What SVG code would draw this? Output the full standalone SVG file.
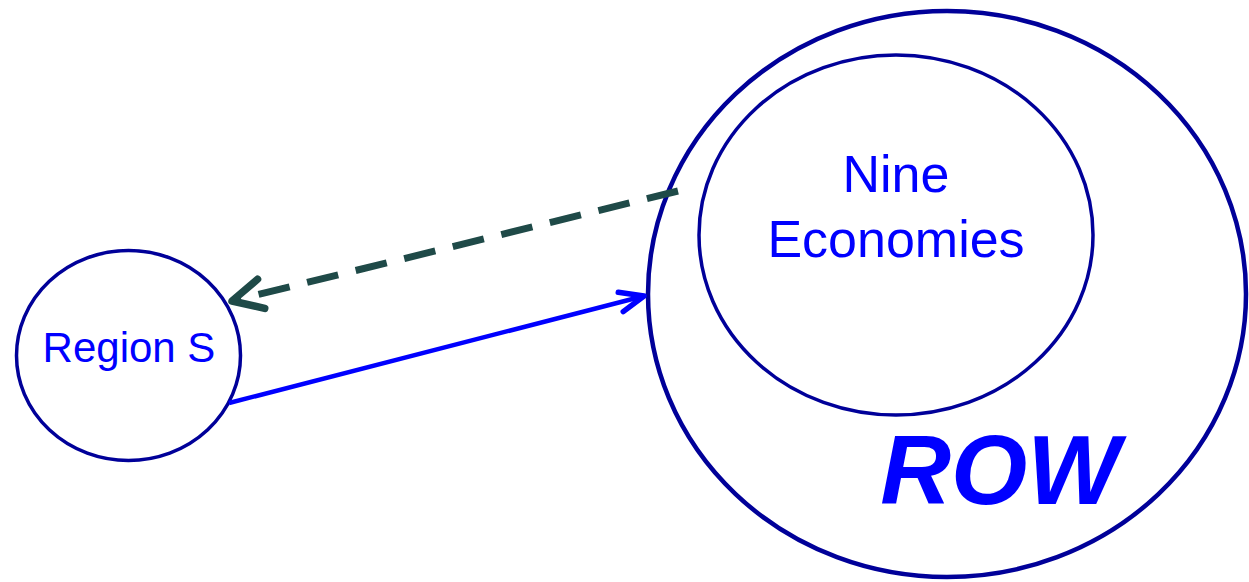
<svg xmlns="http://www.w3.org/2000/svg" width="1249" height="582" viewBox="0 0 1249 582">
<style>
.node{fill:none;stroke:#000099}
.lbl{font-family:"Liberation Sans",Arial,sans-serif;fill:#0000FF;text-anchor:middle}
</style>
<defs>
<marker id="openBlue" markerUnits="userSpaceOnUse" markerWidth="40" markerHeight="40" viewBox="-30 -20 40 40" refX="0" refY="0" orient="auto">
<path d="M -24 -10 L 0 0 L -24 10" fill="none" stroke="#0000FF" stroke-width="5.5" stroke-linecap="round" stroke-linejoin="round"/>
</marker>
<marker id="openGreen" markerUnits="userSpaceOnUse" markerWidth="50" markerHeight="50" viewBox="-40 -25 50 50" refX="0" refY="0" orient="auto">
<path d="M -30 -15 L 0 0 L -30 15" fill="none" stroke="#1F4A48" stroke-width="7.5" stroke-linecap="round" stroke-linejoin="round"/>
</marker>
</defs>
<rect width="1249" height="582" fill="#FFFFFF"/>
<g id="row">
<ellipse class="node" cx="947" cy="294" rx="299" ry="283" stroke-width="4.5"/>
<text class="lbl" x="1000" y="504" font-size="98" font-weight="bold" font-style="italic">ROW</text>
</g>
<g id="nine-economies">
<ellipse class="node" cx="896" cy="235" rx="197" ry="180" stroke-width="3.5"/>
<text class="lbl" x="896" y="192" font-size="52">Nine</text>
<text class="lbl" x="896" y="257" font-size="52">Economies</text>
</g>
<g id="region-s">
<ellipse class="node" cx="128.5" cy="355.5" rx="112" ry="105" stroke-width="3.5"/>
<text class="lbl" x="129" y="362" font-size="42">Region S</text>
</g>
<g id="connectors">
<line x1="229" y1="403" x2="644" y2="296" stroke="#0000FF" stroke-width="4.5" marker-end="url(#openBlue)"/>
<line x1="678" y1="191" x2="232" y2="301" stroke="#1F4A48" stroke-width="7" stroke-dasharray="32 18" marker-end="url(#openGreen)"/>
</g>
</svg>
